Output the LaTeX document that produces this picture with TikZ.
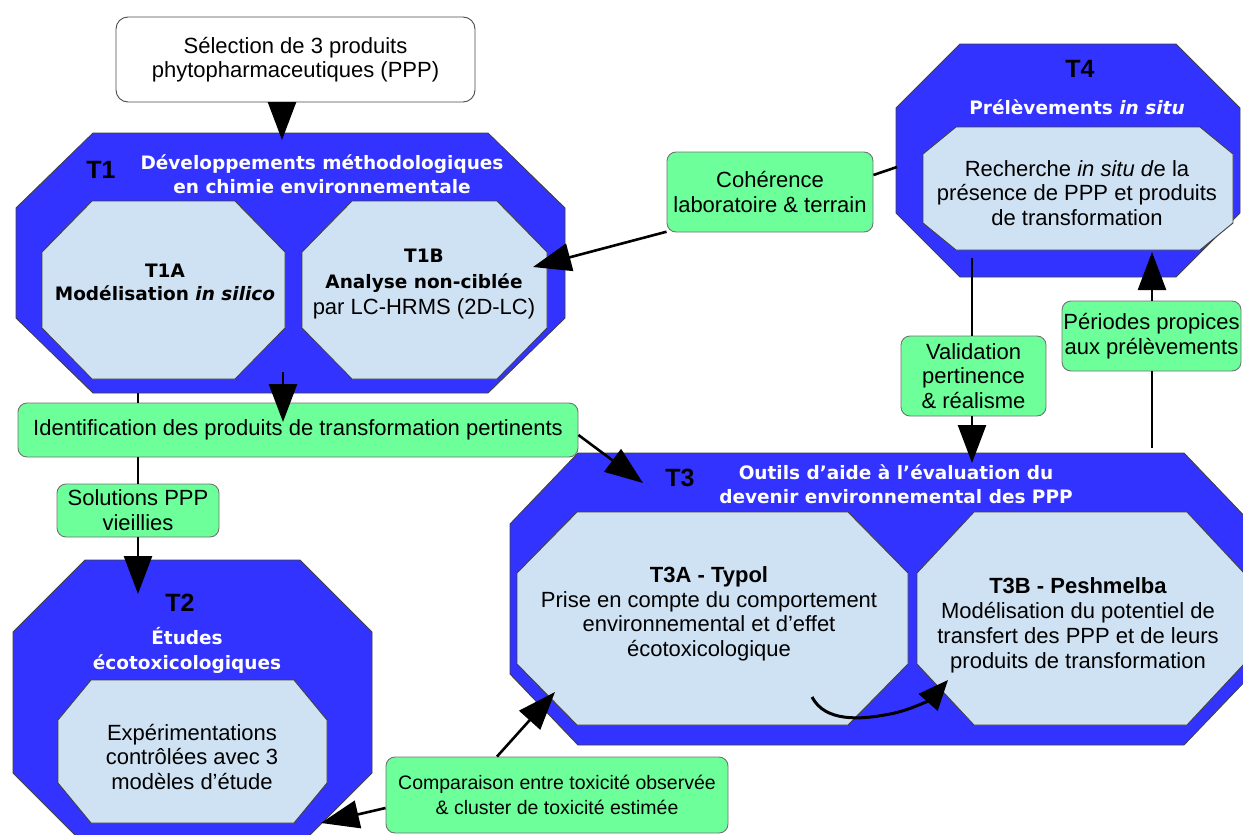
\documentclass[tikz,border=0pt]{standalone}
\usepackage{fontspec}
\setmainfont{Liberation Sans}
\newfontfamily\headfont{DejaVu Sans}
\usetikzlibrary{arrows.meta}

\definecolor{taskblue}{RGB}{51,51,255}
\definecolor{subtask}{RGB}{207,226,243}
\definecolor{linkgreen}{RGB}{108,255,154}

% octagon: style, x1, y1, x2, y2, corner cut x, corner cut y
\newcommand\octagon[7]{%
  \path[#1] ({#2+#6},#3) -- ({#4-#6},#3) -- (#4,{#3+#7}) -- (#4,{#5-#7})
    -- ({#4-#6},#5) -- ({#2+#6},#5) -- (#2,{#5-#7}) -- (#2,{#3+#7}) -- cycle;}

\tikzset{
  taskshape/.style={fill=taskblue, draw=black!75, line width=0.9pt},
  subshape/.style={fill=subtask, draw=black!75, line width=0.9pt},
  linkbox/.style={draw=black!55, fill=linkgreen, rounded corners=9pt, line width=0.9pt,
    align=center, inner sep=0pt, font=\fontsize{22}{25}\selectfont},
  startbox/.style={draw=black!70, fill=white, rounded corners=12pt, line width=0.9pt,
    align=center, inner sep=0pt, font=\fontsize{22}{23.5}\selectfont},
  body/.style={align=center, inner sep=0pt, font=\fontsize{22}{25}\selectfont},
  heading/.style={align=center, inner sep=0pt, text=white,
    font=\headfont\bfseries\fontsize{18.5}{23.5}\selectfont},
  tasktag/.style={inner sep=0pt, font=\bfseries\fontsize{25}{25}\selectfont},
  flow/.style={line width=2.6pt, -{Triangle[length=38pt,width=28pt]}},
  curveflow/.style={line width=3pt, -{Triangle[length=30pt,width=25pt]}},
  tie/.style={line width=2.6pt},
}

\begin{document}
\begin{tikzpicture}[x=1pt,y=-1pt]
\useasboundingbox (0,0) rectangle (1243,835);
\clip (0,0) rectangle (1243,835);

% task areas and sub-tasks
\octagon{taskshape}{16}{133}{565}{393}{77}{75}
\octagon{subshape}{42}{201}{285}{379}{50}{51}
\octagon{subshape}{302}{201}{547}{379}{50}{51}

\octagon{taskshape}{896}{44}{1240}{277}{64}{64}
\octagon{subshape}{923}{127}{1233}{250}{33}{27}

\octagon{taskshape}{510}{453}{1252}{745}{68}{71}
\octagon{subshape}{517}{512}{908}{725}{60}{61}
\octagon{subshape}{917}{512}{1244}{725}{57}{61}

\octagon{taskshape}{13}{560}{372}{845}{72}{72}
\octagon{subshape}{58}{680}{327}{823}{33}{40}

% T1
\node[tasktag] (t1tag) at (101,170) {T1};
\node[heading] (t1head) at (322,174) {Développements méthodologiques\\en chimie environnementale};
\node[body, font=\headfont\bfseries\fontsize{18.5}{23}\selectfont] (t1a) at (165,282)
  {T1A\\Modélisation \textit{in silico}};
\node[body, font=\fontsize{22}{26}\selectfont] (t1b) at (424,284)
  {{\headfont\bfseries\fontsize{18.5}{26}\selectfont T1B}\\
   {\headfont\bfseries\fontsize{18.5}{26}\selectfont Analyse non-ciblée}\\
   par LC-HRMS (2D-LC)};

% T4
\node[tasktag] (t4tag) at (1080,69) {T4};
\node[heading] (t4head) at (1077,107) {Prélèvements \textit{in situ}};
\node[body, font=\fontsize{22}{24.5}\selectfont] (t4txt) at (1077,193)
  {Recherche \textit{in situ d}e la\\présence de PPP et produits\\de transformation};

% T3
\node[tasktag] (t3tag) at (680,478) {T3};
\node[heading] (t3head) at (896,484) {Outils d’aide à l’évaluation du\\devenir environnemental des PPP};
\node[body, font=\fontsize{22}{24.5}\selectfont] (t3a) at (709,614)
  {\textbf{T3A - Typol}\\Prise en compte du comportement\\environnemental et d’effet\\écotoxicologique};
\node[body, font=\fontsize{22}{25}\selectfont] (t3b) at (1078,625)
  {\textbf{T3B - Peshmelba}\\Modélisation du potentiel de\\transfert des PPP et de leurs\\produits de transformation};

% T2
\node[tasktag] (t2tag) at (180,603) {T2};
\node[heading, font=\headfont\bfseries\fontsize{18.5}{25}\selectfont] (t2head) at (187,650) {Études\\écotoxicologiques};
\node[body] (t2txt) at (192,757) {Expérimentations\\contrôlées avec 3\\modèles d'étude};

% start box and link boxes
\node[startbox, minimum width=359pt, minimum height=85pt] (start) at (295.5,59.5)
  {Sélection de 3 produits\\phytopharmaceutiques (PPP)};
\node[linkbox, minimum width=206pt, minimum height=80pt] (coh) at (770,192)
  {Cohérence\\laboratoire \& terrain};
\node[linkbox, minimum width=145pt, minimum height=80pt, font=\fontsize{22}{24.5}\selectfont] (val) at (973.5,376)
  {Validation\\pertinence\\\& réalisme};
\node[linkbox, minimum width=179pt, minimum height=70pt] (per) at (1151.5,336)
  {Périodes propices\\aux prélèvements};
\node[linkbox, minimum width=560pt, minimum height=54pt] (ident) at (298,430)
  {Identification des produits de transformation pertinents};
\node[linkbox, minimum width=162pt, minimum height=53pt] (sol) at (138,510.5)
  {Solutions PPP\\vieillies};
\node[linkbox, minimum width=342pt, minimum height=76pt, font=\fontsize{19.5}{25}\selectfont] (comp) at (557,795)
  {Comparaison entre toxicité observée\\\& cluster de toxicité estimée};

% anchor points on the task areas
\coordinate (t1in) at (282,140);
\coordinate (t1low) at (283,372);
\coordinate (identin) at (283,422);
\coordinate (t1foot) at (138,393);
\coordinate (t2in) at (138,594);
\coordinate (t3in) at (643,483);
\coordinate (t4side) at (897,167);
\coordinate (t1bin) at (533,267);
\coordinate (t4foot) at (972,258);
\coordinate (t3top) at (972,463);
\coordinate (t3right) at (1152,448);
\coordinate (t4in) at (1152,252);
\coordinate (t2side) at (321,823);
\coordinate (t3ain) at (555,692);
\coordinate (t3aout) at (812,697);
\coordinate (t3bin) at (948,680);

% connectors
\draw[flow] (start.south -| t1in) -- (t1in);
\draw[flow] (t1low) -- (identin);
\draw[tie] (t1foot) -- (ident.north -| t1foot);
\draw[tie] (ident.south -| t1foot) -- (sol.north -| t1foot);
\draw[flow] (sol.south) -- (t2in);
\draw[flow] ([yshift=-5pt]ident.east) -- (t3in);
\draw[tie] ([yshift=17pt]coh.east) -- (t4side);
\draw[flow] (coh.201) -- (t1bin);
\draw[tie] (t4foot) -- (val.north -| t4foot);
\draw[flow] (val.south -| t4foot) -- (t3top);
\draw[tie] (t3right) -- (per.south -| t3right);
\draw[flow] (per.north -| t3right) -- (t4in);
\draw[flow] ([yshift=-13pt]comp.west) -- (t2side);
\draw[flow] ([xshift=-60pt]comp.north) -- (t3ain);
\draw[curveflow] (t3aout) .. controls (825,722) and (860,720) .. (890,714)
  .. controls (912,710) and (932,698) .. (t3bin);
\end{tikzpicture}
\end{document}
